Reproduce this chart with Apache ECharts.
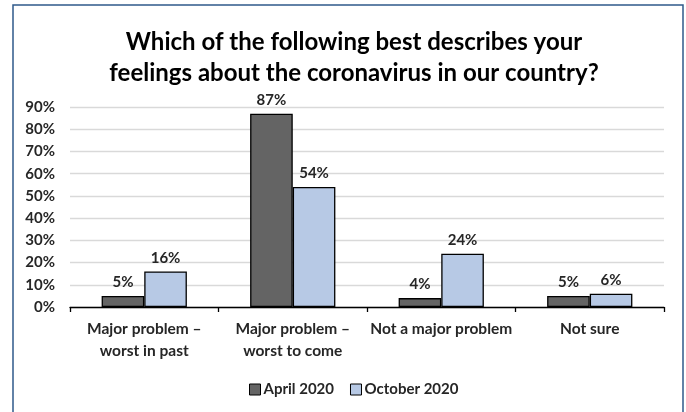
<!DOCTYPE html>
<html>
<head>
<meta charset="utf-8">
<script src="https://cdn.jsdelivr.net/npm/echarts@6/dist/echarts.min.js"></script>
<style>
html,body{margin:0;padding:0;background:#fff;}
#chart{width:686px;height:412px;}
</style>
</head>
<body>
<div id="chart"></div>
<script>
var categories = ["Major problem –\nworst in past", "Major problem –\nworst to come", "Not a major problem", "Not sure"];
var april2020 = [5, 87, 4, 5];
var october2020 = [16, 54, 24, 6];
var yTicks = [0, 10, 20, 30, 40, 50, 60, 70, 80, 90];
var seriesNames = ["April 2020", "October 2020"];

var FONT = "Lato, 'Open Sans', sans-serif";
var chart = echarts.init(document.getElementById('chart'), null, {renderer: 'canvas'});
var labelStyle = {
  show: true, position: 'top', distance: 6,
  formatter: function (p) { return p.value + '%'; },
  fontFamily: FONT, fontWeight: 'bold', fontSize: 15, color: '#262626'
};
chart.setOption({
  backgroundColor: '#fff',
  animation: false,
  graphic: [{
    type: 'rect', shape: {x: 13, y: 5, width: 670, height: 420},
    style: {fill: 'none', stroke: '#2F5A8A', lineWidth: 1.5}, silent: true
  }],
  title: {
    text: 'Which of the following best describes your\nfeelings about the coronavirus in our country?',
    left: 349, top: 22, textAlign: 'center',
    textStyle: {fontFamily: FONT, fontWeight: 'bold', fontSize: 24, lineHeight: 31, color: '#000'}
  },
  legend: {
    data: seriesNames, left: 244, top: 377,
    itemWidth: 11, itemHeight: 11, itemGap: 16,
    icon: 'rect',
    itemStyle: {borderColor: '#000', borderWidth: 1},
    textStyle: {fontFamily: FONT, fontWeight: 'bold', fontSize: 15, color: '#262626', padding: [0,0,0,-2]}
  },
  grid: {left: 70, right: 22, top: 107, bottom: 105},
  xAxis: {
    type: 'category', data: categories,
    axisLine: {lineStyle: {color: '#000', width: 1.3}},
    axisTick: {show: true, length: 5, lineStyle: {color: '#000', width: 1.3}},
    axisLabel: {fontFamily: FONT, fontWeight: 'bold', fontSize: 15.5, color: '#262626', lineHeight: 22, margin: 11, interval: 0}
  },
  yAxis: {
    type: 'value', min: 0, max: 90, interval: 10,
    axisLine: {show: false}, axisTick: {show: false},
    axisLabel: {fontFamily: FONT, fontWeight: 'bold', fontSize: 15, color: '#262626', margin: 15,
      formatter: function (v) { return v + '%'; }},
    splitLine: {lineStyle: {color: '#D9D9D9', width: 1.3}}
  },
  series: [{
    name: seriesNames[0], type: 'bar', data: april2020,
    barGap: '0%', barCategoryGap: '42.6%',
    itemStyle: {color: '#646464', borderColor: '#000', borderWidth: 1.3},
    label: labelStyle
  }, {
    name: seriesNames[1], type: 'bar', data: october2020,
    itemStyle: {color: '#B7C9E5', borderColor: '#000', borderWidth: 1.3},
    label: labelStyle
  }]
});
</script>
</body>
</html>
